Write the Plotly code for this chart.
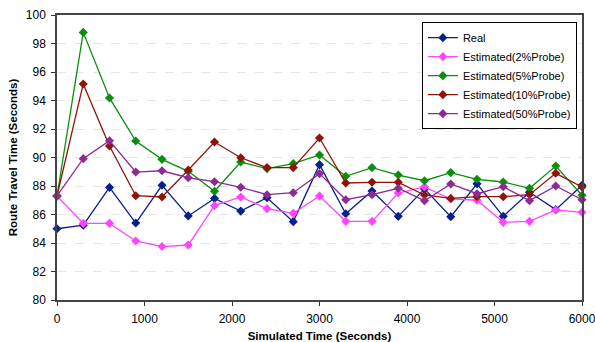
import plotly.graph_objects as go

x = [0, 300, 600, 900, 1200, 1500, 1800, 2100, 2400, 2700, 3000, 3300, 3600, 3900, 4200, 4500, 4800, 5100, 5400, 5700, 6000]
real = [85.0, 85.25, 87.9, 85.4, 88.05, 85.9, 87.13, 86.24, 87.18, 85.5, 89.5, 86.05, 87.65, 85.87, 87.8, 85.85, 88.15, 85.87, 87.56, 86.34, 88.05]
est2 = [87.3, 85.38, 85.38, 84.14, 83.75, 83.86, 86.62, 87.23, 86.41, 86.08, 87.3, 85.52, 85.52, 87.51, 87.94, 87.09, 87.0, 85.45, 85.52, 86.32, 86.15]
est5 = [87.3, 98.78, 94.18, 91.16, 89.87, 89.03, 87.63, 89.68, 89.22, 89.57, 90.18, 88.68, 89.29, 88.77, 88.37, 88.94, 88.47, 88.28, 87.84, 89.4, 87.35]
est10 = [87.3, 95.16, 90.81, 87.32, 87.23, 89.12, 91.09, 89.98, 89.29, 89.29, 91.37, 88.21, 88.26, 88.26, 87.37, 87.13, 87.25, 87.25, 87.39, 88.89, 87.93]
est50 = [87.3, 89.92, 91.18, 88.98, 89.07, 88.58, 88.3, 87.91, 87.39, 87.53, 88.87, 87.04, 87.39, 87.84, 86.97, 88.14, 87.46, 87.95, 86.97, 88.0, 87.04]

names = ["Real", "Estimated(2%Probe)", "Estimated(5%Probe)", "Estimated(10%Probe)", "Estimated(50%Probe)"]
series = [real, est2, est5, est10, est50]
colors = ["#0a1f8f", "#ff44ff", "#0a8f0a", "#8f1408", "#8f2a94"]

fig = go.Figure()
for n, s, c in zip(names, series, colors):
    fig.add_trace(go.Scatter(x=x, y=s, name=n, mode="lines+markers",
                             line=dict(color=c, width=1.3),
                             marker=dict(symbol="diamond", size=7, color=c),
                             cliponaxis=False))

fig.update_layout(
    width=595, height=342,
    margin=dict(l=57, r=13, t=15, b=42),
    paper_bgcolor="white", plot_bgcolor="white",
    font=dict(family="Liberation Sans, Arial", size=12, color="black"),
    showlegend=True,
    legend=dict(x=0.695, y=0.975, xanchor="left", yanchor="top",
                bordercolor="black", borderwidth=1, bgcolor="white",
                font=dict(size=11), itemwidth=30, tracegroupgap=0),
)
fig.update_xaxes(range=[0, 6000], tickvals=[0, 1000, 2000, 3000, 4000, 5000, 6000],
                 ticks="outside", ticklen=4, tickcolor="#333", automargin=False,
                 ticklabelstandoff=3, tickfont=dict(size=12), ticklabeloverflow="allow",
                 showline=True, linecolor="#444", linewidth=1.5, mirror=True,
                 showgrid=False, zeroline=False,
                 title=dict(text="<b>Simulated Time (Seconds)</b>", font=dict(size=11.5), standoff=7))
fig.update_yaxes(range=[80, 100], tickvals=list(range(80, 101, 2)),
                 ticks="outside", ticklen=4, tickcolor="#333", automargin=False,
                 ticklabelstandoff=3, tickfont=dict(size=12),
                 showline=True, linecolor="#444", linewidth=1.5, mirror=True,
                 showgrid=True, gridcolor="#e6e6e6", griddash="dash", gridwidth=1,
                 zeroline=False,
                 title=dict(text="<b>Route Travel Time (Seconds)</b>", font=dict(size=11.5), standoff=6))

fig.write_html("out.html")
